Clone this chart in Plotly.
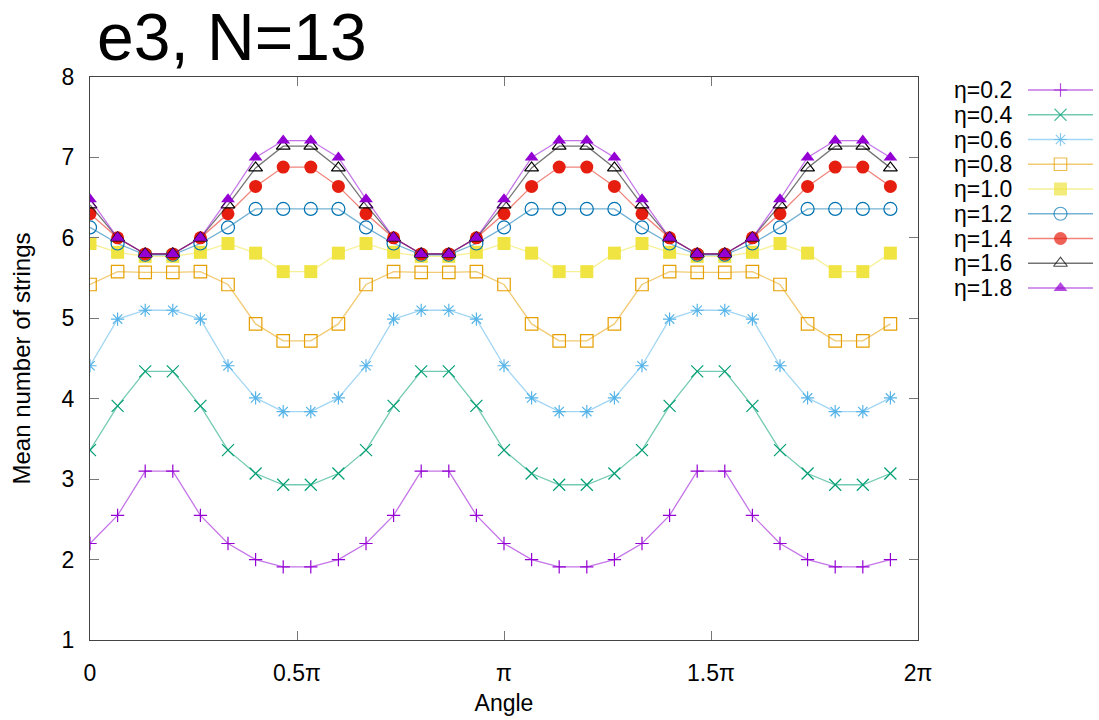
import plotly.graph_objects as go

# ---------------- data ----------------
angle_pi = [0.0, 0.0667, 0.1333, 0.2, 0.2667, 0.3333, 0.4, 0.4667, 0.5333, 0.6,
            0.6667, 0.7333, 0.8, 0.8667, 0.9333, 1.0, 1.0667, 1.1333, 1.2, 1.2667,
            1.3333, 1.4, 1.4667, 1.5333, 1.6, 1.6667, 1.7333, 1.8, 1.8667, 1.9333]

eta_02 = [2.20, 2.55, 3.10, 3.10, 2.55, 2.20, 2.00, 1.91, 1.91, 2.00,
          2.20, 2.55, 3.10, 3.10, 2.55, 2.20, 2.00, 1.91, 1.91, 2.00,
          2.20, 2.55, 3.10, 3.10, 2.55, 2.20, 2.00, 1.91, 1.91, 2.00]
eta_04 = [3.36, 3.91, 4.34, 4.34, 3.91, 3.36, 3.07, 2.93, 2.93, 3.07,
          3.36, 3.91, 4.34, 4.34, 3.91, 3.36, 3.07, 2.93, 2.93, 3.07,
          3.36, 3.91, 4.34, 4.34, 3.91, 3.36, 3.07, 2.93, 2.93, 3.07]
eta_06 = [4.41, 4.99, 5.10, 5.10, 4.99, 4.41, 4.01, 3.84, 3.84, 4.01,
          4.41, 4.99, 5.10, 5.10, 4.99, 4.41, 4.01, 3.84, 3.84, 4.01,
          4.41, 4.99, 5.10, 5.10, 4.99, 4.41, 4.01, 3.84, 3.84, 4.01]
eta_08 = [5.42, 5.58, 5.57, 5.57, 5.58, 5.42, 4.93, 4.72, 4.72, 4.93,
          5.42, 5.58, 5.57, 5.57, 5.58, 5.42, 4.93, 4.72, 4.72, 4.93,
          5.42, 5.58, 5.57, 5.57, 5.58, 5.42, 4.93, 4.72, 4.72, 4.93]
eta_10 = [5.93, 5.82, 5.77, 5.77, 5.82, 5.93, 5.81, 5.58, 5.58, 5.81,
          5.93, 5.82, 5.77, 5.77, 5.82, 5.93, 5.81, 5.58, 5.58, 5.81,
          5.93, 5.82, 5.77, 5.77, 5.82, 5.93, 5.81, 5.58, 5.58, 5.81]
eta_12 = [6.13, 5.93, 5.79, 5.79, 5.93, 6.13, 6.36, 6.36, 6.36, 6.36,
          6.13, 5.93, 5.79, 5.79, 5.93, 6.13, 6.36, 6.36, 6.36, 6.36,
          6.13, 5.93, 5.79, 5.79, 5.93, 6.13, 6.36, 6.36, 6.36, 6.36]
eta_14 = [6.30, 6.00, 5.80, 5.80, 6.00, 6.30, 6.64, 6.88, 6.88, 6.64,
          6.30, 6.00, 5.80, 5.80, 6.00, 6.30, 6.64, 6.88, 6.88, 6.64,
          6.30, 6.00, 5.80, 5.80, 6.00, 6.30, 6.64, 6.88, 6.88, 6.64]
eta_16 = [6.41, 6.00, 5.80, 5.80, 6.00, 6.41, 6.87, 7.14, 7.14, 6.87,
          6.41, 6.00, 5.80, 5.80, 6.00, 6.41, 6.87, 7.14, 7.14, 6.87,
          6.41, 6.00, 5.80, 5.80, 6.00, 6.41, 6.87, 7.14, 7.14, 6.87]
eta_18 = [6.48, 6.00, 5.80, 5.80, 6.00, 6.48, 7.00, 7.21, 7.21, 7.00,
          6.48, 6.00, 5.80, 5.80, 6.00, 6.48, 7.00, 7.21, 7.21, 7.00,
          6.48, 6.00, 5.80, 5.80, 6.00, 6.48, 7.00, 7.21, 7.21, 7.00]

series_values = [eta_02, eta_04, eta_06, eta_08, eta_10, eta_12, eta_14, eta_16, eta_18]
series_labels = ["η=0.2", "η=0.4", "η=0.6", "η=0.8", "η=1.0",
                 "η=1.2", "η=1.4", "η=1.6", "η=1.8"]

x_tick_vals = [0, 0.5, 1, 1.5, 2]
x_tick_text = ["0", "0.5π", "π", "1.5π", "2π"]
y_tick_vals = [1, 2, 3, 4, 5, 6, 7, 8]

# ---------------- styles ----------------
colors = ["148,0,211", "0,158,115", "86,180,233", "230,159,0", "240,228,66",
          "0,114,178", "229,30,16", "0,0,0", "148,0,211"]
symbols = ["cross-thin-open", "x-thin-open", "asterisk-open", "square-open", "square",
           "circle-open", "circle", "triangle-up-open", "triangle-up"]
sizes = [9.5, 12, 11, 12.5, 13, 13, 13, 12, 12]
filled = [False, False, False, False, True, False, True, False, True]

FONT = "Liberation Sans"
W, H = 1099, 720
L, R, T, B = 90, 6, 77, 80
plot_w = W - L - R
plot_h = H - T - B
main_right = 918
x_dom_end = (main_right - L) / plot_w

fig = go.Figure()

for vals, lab, c, sym, sz, fl in zip(series_values, series_labels, colors, symbols, sizes, filled):
    marker = dict(symbol=sym, size=sz, color=f"rgb({c})")
    if fl:
        marker["line"] = dict(width=0)
    else:
        marker["line"] = dict(width=1.2, color=f"rgba({c},0.8)")
    fig.add_trace(go.Scatter(
        x=angle_pi, y=vals, mode="lines+markers", name=lab,
        line=dict(color=f"rgba({c},0.55)", width=1.3),
        marker=marker, showlegend=False, xaxis="x", yaxis="y"))

# ---------------- custom legend (keys on an inset axis) ----------------
row_top, row_step = 90, 24.75
n = len(series_labels)
y2_top_px = row_top - row_step / 2
y2_bot_px = row_top + row_step * (n - 1) + row_step / 2
y2_dom = [(H - B - y2_bot_px) / plot_h, (H - B - y2_top_px) / plot_h]
key_x0, key_x1 = 1028, 1093
x2_dom = [(key_x0 - L) / plot_w, min(1.0, (key_x1 - L) / plot_w)]

for i, (lab, c, sym, sz, fl) in enumerate(zip(series_labels, colors, symbols, sizes, filled)):
    marker = dict(symbol=sym, size=[0, sz, 0], color=f"rgb({c})")
    if fl:
        marker["line"] = dict(width=0)
    else:
        marker["line"] = dict(width=1.2, color=f"rgba({c},0.8)")
    fig.add_trace(go.Scatter(
        x=[0, 0.5, 1], y=[i, i, i], mode="lines+markers",
        line=dict(color=f"rgba({c},0.55)", width=1.3),
        marker=marker, showlegend=False, hoverinfo="skip",
        xaxis="x2", yaxis="y2"))
    fig.add_annotation(text=lab, xref="paper", yref="y2",
                       x=(1014 - L) / plot_w, y=i, xanchor="right", yanchor="middle",
                       showarrow=False, font=dict(family=FONT, size=23, color="black"))

# title
fig.add_annotation(text="e3, N=13", xref="paper", yref="paper",
                   x=(95 - L) / plot_w, y=(H - B - 37) / plot_h,
                   xanchor="left", yanchor="middle", showarrow=False,
                   font=dict(family=FONT, size=66, color="black"))

axis_common = dict(showline=True, linecolor="#444", linewidth=1, mirror="ticks",
                   ticks="inside", ticklen=9, tickcolor="#777", tickwidth=1,
                   showgrid=False, zeroline=False, automargin=False,
                   tickfont=dict(family=FONT, size=23, color="black"))

fig.update_layout(
    width=W, height=H,
    margin=dict(l=L, r=R, t=T, b=B, autoexpand=False),
    paper_bgcolor="white", plot_bgcolor="white",
    showlegend=False,
    xaxis=dict(domain=[0, x_dom_end], range=[0, 2], tickvals=x_tick_vals,
               ticktext=x_tick_text, ticklabelstandoff=12,
               title=dict(text="Angle", font=dict(family=FONT, size=23, color="black"),
                          standoff=10),
               **axis_common),
    yaxis=dict(range=[1, 8], tickvals=y_tick_vals, ticklabelstandoff=10,
               title=dict(text="Mean number of strings",
                          font=dict(family=FONT, size=24, color="black"), standoff=24),
               **axis_common),
    xaxis2=dict(domain=x2_dom, range=[0, 1], visible=False, fixedrange=True),
    yaxis2=dict(domain=y2_dom, range=[n - 0.5, -0.5], visible=False, fixedrange=True,
                anchor="x2"),
)

fig.write_html("out.html")
